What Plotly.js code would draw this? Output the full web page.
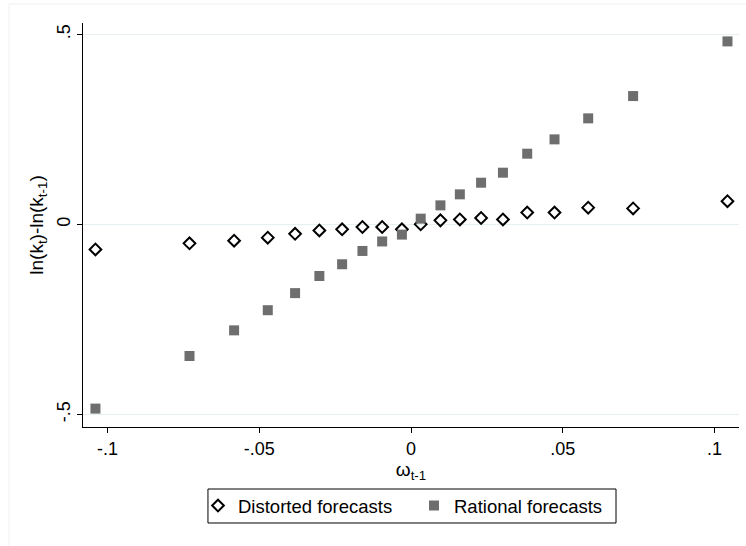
<!DOCTYPE html>
<html>
<head>
<meta charset="utf-8">
<script src="https://cdn.plot.ly/plotly-3.0.1.min.js"></script>
<style>html,body{margin:0;padding:0;background:#fff;}</style>
</head>
<body>
<div id="chart" style="width:746px;height:546px;"></div>
<script>
// omega_{t-1} bins
const omega = [-0.104, -0.073, -0.0583, -0.0472, -0.0382, -0.0302, -0.0227, -0.016, -0.0095, -0.003,
               0.0032, 0.0097, 0.0161, 0.0231, 0.0303, 0.0383, 0.0473, 0.0584, 0.0732, 0.1043];
// ln(k_t) - ln(k_{t-1})
const distorted = [-0.066, -0.050, -0.043, -0.035, -0.025, -0.016, -0.013, -0.007, -0.007, -0.013,
                   0.000, 0.0105, 0.013, 0.0167, 0.013, 0.031, 0.031, 0.044, 0.042, 0.061];
const rational = [-0.485, -0.3465, -0.279, -0.226, -0.181, -0.136, -0.105, -0.070, -0.045, -0.027,
                  0.015, 0.050, 0.079, 0.1096, 0.136, 0.186, 0.2237, 0.279, 0.3377, 0.4816];
const seriesNames = ["Distorted forecasts", "Rational forecasts"];
const xTickVals = [-0.1, -0.05, 0, 0.05, 0.1];
const xTickText = ["-.1", "-.05", "0", ".05", ".1"];
const yTickVals = [-0.5, 0, 0.5];
const yTickText = ["-.5", "0", ".5"];

const FONT = "Liberation Sans, Arial, Helvetica, sans-serif";

const traces = [
  {
    x: omega, y: distorted, name: seriesNames[0], type: "scatter", mode: "markers",
    marker: {symbol: "diamond-open", size: 9, color: "#000000", line: {width: 2, color: "#000000"}}
  },
  {
    x: omega, y: rational, name: seriesNames[1], type: "scatter", mode: "markers",
    marker: {symbol: "square", size: 10, color: "#6e6e6e", line: {width: 0}}
  }
];

const layout = {
  width: 746, height: 546,
  margin: {l: 83, r: 7, t: 23, b: 119, pad: 0},
  paper_bgcolor: "#ffffff", plot_bgcolor: "#ffffff",
  font: {family: FONT, color: "#000000", size: 18},
  showlegend: true,
  xaxis: {
    range: [-0.1081, 0.1081],
    tickvals: xTickVals, ticktext: xTickText,
    ticks: "outside", ticklen: 5, tickwidth: 1, tickcolor: "#000000",
    showline: true, linecolor: "#000000", linewidth: 1,
    showgrid: false, zeroline: false,
    tickfont: {size: 18, color: "#000000", family: FONT},
    title: {text: "ω<sub>t-1</sub>", font: {size: 19, family: FONT, color: "#000000"}, standoff: 5}
  },
  yaxis: {
    range: [-0.5334, 0.530],
    tickvals: yTickVals, ticktext: yTickText,
    tickangle: -90,
    ticks: "outside", ticklen: 5, tickwidth: 1, tickcolor: "#000000",
    showline: true, linecolor: "#000000", linewidth: 1,
    showgrid: true, gridcolor: "#e6eff1", gridwidth: 1, zeroline: false,
    tickfont: {size: 18, color: "#000000", family: FONT},
    title: {text: "ln(k<sub>t</sub>)-ln(k<sub>t-1</sub>)", font: {size: 19, family: FONT, color: "#000000"}, standoff: 5}
  },
  legend: {
    orientation: "h", x: 0.1753, xanchor: "left", y: -0.1485, yanchor: "top",
    borderwidth: 0, bgcolor: "rgba(0,0,0,0)",
    font: {size: 18.5, family: FONT, color: "#000000"},
    itemwidth: 30,
    entrywidth: 171, entrywidthmode: "pixels"
  },
  shapes: [
    {type: "rect", xref: "paper", yref: "paper", x0: 0.1905, x1: 0.8125, y0: -0.1535, y1: -0.2376,
     line: {color: "#000000", width: 1}, fillcolor: "rgba(0,0,0,0)"},
    {type: "line", xref: "paper", yref: "paper", x0: -0.1128, x1: 1.2, y0: 1.047, y1: 1.047,
     line: {color: "#f0f0f0", width: 1}},
    {type: "line", xref: "paper", yref: "paper", x0: -0.1128, x1: -0.1128, y0: 1.047, y1: -0.5,
     line: {color: "#f0f0f0", width: 1}}
  ]
};

Plotly.newPlot("chart", traces, layout, {displayModeBar: false, staticPlot: true});
</script>
</body>
</html>
